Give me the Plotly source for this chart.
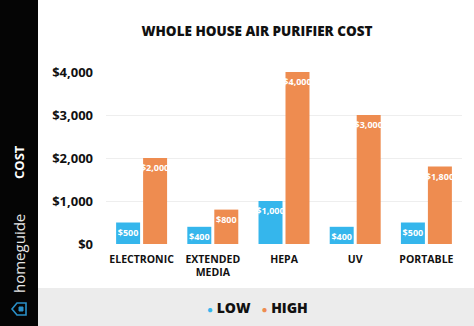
import plotly.graph_objects as go

categories = ["ELECTRONIC", "EXTENDED<br>MEDIA", "HEPA", "UV", "PORTABLE"]
low_values = [500, 400, 1000, 400, 500]
high_values = [2000, 800, 4000, 3000, 1800]
tick_values = [0, 1000, 2000, 3000, 4000]
tick_labels = ["$0", "$1,000", "$2,000", "$3,000", "$4,000"]

W, H = 474, 326
ML, MR, MT, MB = 106, 12, 72, 82
PW, PH = W - ML - MR, H - MT - MB

def px(x):
    return (x - ML) / PW

def py(y):
    return (H - MB - y) / PH

BLUE = "#35B6EC"
ORANGE = "#EE8C50"
FONT = "Open Sans"

def money(v):
    return "${:,}".format(v)

fig = go.Figure()
fig.add_trace(go.Bar(
    x=categories, y=low_values, name="LOW", marker=dict(color=BLUE, line_width=0),
    text=[money(v) for v in low_values], textposition="inside", insidetextanchor="end",
    constraintext="none", textangle=0,
    textfont=dict(family=FONT, size=9, color="white", weight=700), showlegend=False))
fig.add_trace(go.Bar(
    x=categories, y=high_values, name="HIGH", marker=dict(color=ORANGE, line_width=0),
    text=[money(v) for v in high_values], textposition="inside", insidetextanchor="end",
    constraintext="none", textangle=0,
    textfont=dict(family=FONT, size=9, color="white", weight=700), showlegend=False))

shapes = [
    # dark sidebar
    dict(type="rect", xref="paper", yref="paper", x0=px(0), x1=px(38), y0=py(H), y1=py(0),
         fillcolor="#050505", line_width=0, layer="below"),
    # legend band
    dict(type="rect", xref="paper", yref="paper", x0=px(38), x1=px(W), y0=py(H), y1=py(288),
         fillcolor="#ececec", line_width=0, layer="below"),
    # house icon (rotated)
    dict(type="path", xref="paper", yref="paper",
         path="M {},{} L {},{} L {},{} L {},{} L {},{} Z".format(
             px(12), py(309), px(17), py(303), px(26), py(303), px(26), py(315), px(17), py(315)),
         line=dict(color="#2A90C8", width=1.6), fillcolor="rgba(0,0,0,0)"),
    dict(type="rect", xref="paper", yref="paper", x0=px(19), x1=px(23), y0=py(311), y1=py(307),
         line=dict(color="#2A90C8", width=1), fillcolor="#2A90C8"),
]

annotations = [
    dict(text="COST", x=px(19), y=py(162), xref="paper", yref="paper", textangle=-90,
         xanchor="center", yanchor="middle",
         showarrow=False, font=dict(family=FONT, size=13, color="white", weight=700)),
    dict(text="homeguide", x=px(19), y=py(254), xref="paper", yref="paper", textangle=-90,
         xanchor="center", yanchor="middle",
         showarrow=False, font=dict(family=FONT, size=15, color="#e6e6e6", weight=400)),
    dict(text='<span style="color:%s;font-size:10px">●</span> LOW   '
              '<span style="color:%s;font-size:10px">●</span> HIGH' % (BLUE, ORANGE),
         x=px(257), y=py(307), xref="paper", yref="paper", showarrow=False,
         xanchor="center", yanchor="middle",
         font=dict(family=FONT, size=14, color="#111111", weight=800)),
]

fig.update_layout(
    width=W, height=H,
    margin=dict(l=ML, r=MR, t=MT, b=MB, pad=0),
    paper_bgcolor="white", plot_bgcolor="white",
    barmode="group", bargap=0.242, bargroupgap=0.111,
    title=dict(text="WHOLE HOUSE AIR PURIFIER COST", x=257 / W, y=1 - 31 / H,
               xref="container", yref="container", xanchor="center", yanchor="middle",
               font=dict(family=FONT, size=13.5, color="#111111", weight=800)),
    xaxis=dict(showgrid=False, showline=False, ticks="", tickangle=0, ticklabelstandoff=7,
               tickfont=dict(family=FONT, size=10.5, color="#111111", weight=700)),
    yaxis=dict(range=[0, 4000], tickvals=tick_values, ticktext=tick_labels,
               showgrid=True, gridcolor="#eeeeee", gridwidth=1, zeroline=False,
               showline=False, ticks="", ticklabelstandoff=12,
               tickfont=dict(family=FONT, size=13, color="#111111", weight=700)),
    shapes=shapes, annotations=annotations, showlegend=False,
)

fig.write_html("out.html")
